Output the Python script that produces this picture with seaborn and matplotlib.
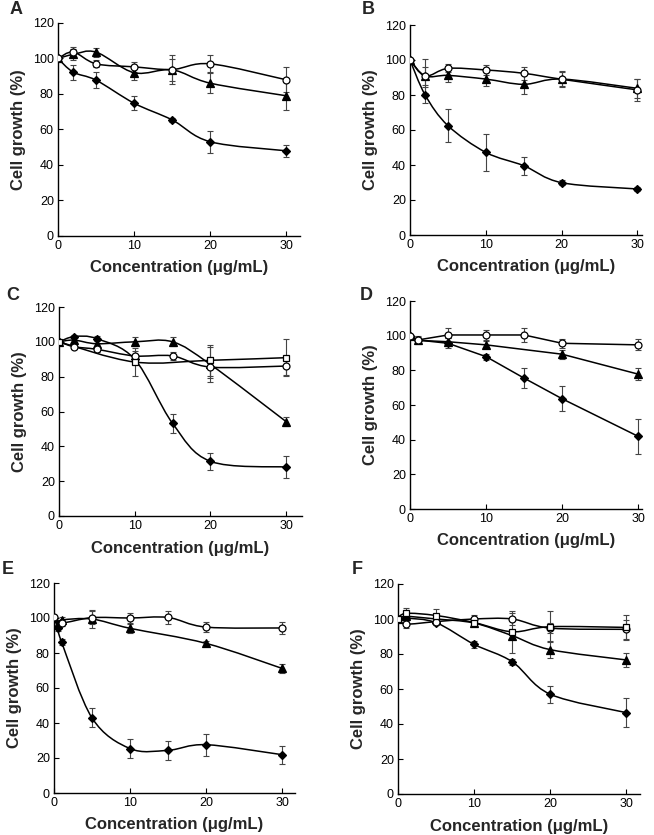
# Cell growth curves, six panels (A-F), smoothed lines like the original figure.

import numpy as np
import matplotlib
matplotlib.use("Agg")
import matplotlib.pyplot as plt
from matplotlib.path import Path
from matplotlib.patches import PathPatch
import seaborn as sns

# ---- data ----
conc_a = [0, 2, 5, 10, 15, 20, 30]
a_diamond = [100, 92.3, 87.8, 74.8, 65.4, 53.1, 48.0]
a_diamond_err = [0, 4.3, 4.5, 4.0, 1.0, 6.2, 3.5]
a_triangle = [100, 102.3, 103.6, 92.0, 93.6, 86.1, 79.0]
a_triangle_err = [0, 3.0, 2.5, 4.0, 6.0, 5.5, 7.8]
a_circle = [100, 103.6, 97.0, 95.3, 93.8, 97.0, 88.0]
a_circle_err = [0, 3.0, 2.0, 3.0, 8.0, 4.8, 7.0]

conc_b = [0, 2, 5, 10, 15, 20, 30]
b_diamond = [100, 80.0, 62.5, 47.2, 39.6, 29.9, 26.3]
b_diamond_err = [0, 4.5, 9.5, 10.6, 5.2, 1.5, 1.0]
b_triangle = [100, 90.9, 91.2, 89.1, 86.1, 89.1, 83.8]
b_triangle_err = [0, 5.0, 4.0, 4.0, 5.8, 4.0, 5.5]
b_circle = [100, 90.9, 95.2, 94.3, 92.4, 89.0, 82.9]
b_circle_err = [0, 9.5, 2.3, 3.0, 3.8, 4.5, 6.2]

conc_c = [0, 2, 5, 10, 15, 20, 30]
c_diamond = [100, 103.0, 101.8, 90.0, 53.2, 31.4, 28.1]
c_diamond_err = [0, 1.0, 1.5, 3.0, 5.5, 4.8, 6.2]
c_triangle = [100, 101.0, 98.9, 100.0, 100.0, 87.0, 54.2]
c_triangle_err = [0, 1.5, 2.0, 2.5, 2.5, 10.0, 2.5]
c_circle = [100, 97.2, 95.7, 91.9, 91.9, 85.5, 86.1]
c_circle_err = [0, 1.5, 1.5, 3.0, 2.5, 6.0, 5.3]
conc_c_sq = [0, 10, 20, 30]
c_square = [100, 88.4, 89.4, 90.9]
c_square_err = [0, 8.0, 9.0, 10.5]

conc_d = [0, 1, 5, 10, 15, 20, 30]
d_diamond = [100, 97.5, 95.6, 87.9, 75.5, 63.6, 41.9]
d_diamond_err = [0, 1.5, 3.0, 1.8, 5.8, 7.3, 10.0]
conc_d_tri = [0, 1, 5, 10, 20, 30]
d_triangle = [100, 97.3, 96.5, 94.7, 89.3, 77.8]
d_triangle_err = [0, 1.5, 2.0, 2.0, 2.5, 3.3]
d_circle = [100, 97.5, 100.4, 100.4, 100.4, 95.6, 94.7]
d_circle_err = [0, 2.5, 4.0, 3.0, 4.0, 2.5, 3.2]

conc_e = [0, 0.5, 1, 5, 10, 15, 20, 30]
e_diamond = [100, 94.3, 86.3, 42.9, 25.4, 24.4, 27.6, 21.9]
e_diamond_err = [0, 1.5, 1.5, 5.4, 5.5, 5.4, 6.2, 5.2]
conc_e_tri = [0, 0.5, 1, 5, 10, 20, 30]
e_triangle = [100, 96.5, 98.8, 99.4, 94.1, 85.5, 71.2]
e_triangle_err = [0, 2.0, 1.5, 5.0, 2.5, 1.5, 2.8]
conc_e_circ = [0, 1, 5, 10, 15, 20, 30]
e_circle = [100.5, 97.2, 100.2, 100.0, 100.3, 94.8, 94.3]
e_circle_err = [0, 1.5, 3.6, 3.0, 3.8, 2.8, 3.5]

conc_f = [0, 1, 5, 10, 15, 20, 30]
f_diamond = [100, 100.5, 97.9, 85.5, 75.6, 57.0, 46.5]
f_diamond_err = [0, 1.5, 1.5, 1.8, 1.8, 4.8, 8.2]
f_triangle = [100, 101.5, 100.0, 97.7, 90.5, 82.5, 76.6]
f_triangle_err = [0, 2.0, 2.0, 1.5, 2.0, 5.0, 4.0]
f_circle = [100, 97.1, 98.5, 100.0, 100.0, 94.8, 94.1]
f_circle_err = [0, 2.5, 1.5, 2.5, 3.5, 3.0, 5.5]
f_square = [100, 103.2, 102.0, 98.0, 92.7, 95.6, 95.2]
f_square_err = [0, 3.0, 3.5, 1.5, 12.0, 9.0, 7.0]

x_ticks = [0, 10, 20, 30]
y_ticks = [0, 20, 40, 60, 80, 100, 120]
x_label = "Concentration (μg/mL)"
y_label = "Cell growth (%)"

# marker styles: (marker, size, face colour)
styles = {
    "diamond": ("D", 4.0, "black"),
    "triangle": ("^", 5.6, "black"),
    "square": ("s", 4.8, "white"),
    "circle": ("o", 5.0, "white"),
}

sns.set_style("ticks")
plt.rcParams["font.family"] = ["Liberation Sans", "DejaVu Sans"]

W, H = 654, 835
fig = plt.figure(figsize=(W / 100, H / 100), dpi=100)


# Draws a line through the points the way Excel does its "smoothed line"
# (Catmull-Rom style cubic Bezier segments in data coordinates).
def smooth_line(ax, x, y):
    x = np.asarray(x, float)
    y = np.asarray(y, float)
    n = len(x)
    verts = [(x[0], y[0])]
    codes = [Path.MOVETO]
    for i in range(n - 1):
        i0 = max(i - 1, 0)
        i3 = min(i + 2, n - 1)
        c1 = (x[i] + (x[i + 1] - x[i0]) / 6, y[i] + (y[i + 1] - y[i0]) / 6)
        c2 = (x[i + 1] - (x[i3] - x[i]) / 6, y[i + 1] - (y[i3] - y[i]) / 6)
        verts += [c1, c2, (x[i + 1], y[i + 1])]
        codes += [Path.CURVE4] * 3
    ax.add_patch(PathPatch(Path(verts, codes), fill=False, edgecolor="black",
                           linewidth=1.1, zorder=2))


def draw_series(ax, x, y, err, kind, smooth):
    marker, ms, fc = styles[kind]
    ax.errorbar(x, y, yerr=err, fmt="none", ecolor="#444444", elinewidth=0.8,
                capsize=2.3, capthick=0.8, zorder=1)
    if smooth:
        smooth_line(ax, x, y)
        ls = ""
    else:
        ls = "-"
    sns.lineplot(x=x, y=y, ax=ax, marker=marker, linestyle=ls, linewidth=1.1,
                 markersize=ms, color="black", markerfacecolor=fc,
                 markeredgecolor="black", markeredgewidth=0.9,
                 errorbar=None, sort=False, zorder=3)


# letter, axes box (left, top, right, bottom px), x max, smoothed, letter pos, series
panels = [
    ("A", (58, 23, 300, 236), 31.8, True, (10, 9), [
        (conc_a, a_diamond, a_diamond_err, "diamond"),
        (conc_a, a_triangle, a_triangle_err, "triangle"),
        (conc_a, a_circle, a_circle_err, "circle")]),
    ("B", (410, 25, 642, 235), 30.6, True, (362, 9), [
        (conc_b, b_diamond, b_diamond_err, "diamond"),
        (conc_b, b_triangle, b_triangle_err, "triangle"),
        (conc_b, b_circle, b_circle_err, "circle")]),
    ("C", (59, 307, 302, 516), 32.1, True, (6, 295), [
        (conc_c, c_diamond, c_diamond_err, "diamond"),
        (conc_c, c_triangle, c_triangle_err, "triangle"),
        (conc_c, c_circle, c_circle_err, "circle"),
        (conc_c_sq, c_square, c_square_err, "square")]),
    ("D", (410, 301, 642, 509), 30.5, False, (360, 295), [
        (conc_d, d_diamond, d_diamond_err, "diamond"),
        (conc_d_tri, d_triangle, d_triangle_err, "triangle"),
        (conc_d, d_circle, d_circle_err, "circle")]),
    ("E", (54, 583, 295, 793), 31.7, True, (2, 570), [
        (conc_e, e_diamond, e_diamond_err, "diamond"),
        (conc_e_tri, e_triangle, e_triangle_err, "triangle"),
        (conc_e_circ, e_circle, e_circle_err, "circle")]),
    ("F", (398, 584, 640, 794), 31.8, True, (352, 570), [
        (conc_f, f_diamond, f_diamond_err, "diamond"),
        (conc_f, f_triangle, f_triangle_err, "triangle"),
        (conc_f, f_circle, f_circle_err, "circle"),
        (conc_f, f_square, f_square_err, "square")]),
]

for letter, (l, t, r, b), x_max, smooth, (lx, ly), series in panels:
    ax = fig.add_axes([l / W, 1 - b / H, (r - l) / W, (b - t) / H])
    for x, y, err, kind in series:
        draw_series(ax, x, y, err, kind, smooth)

    ax.set_xlim(0, x_max)
    ax.set_ylim(0, 120)
    ax.set_xticks(x_ticks)
    ax.set_yticks(y_ticks)
    ax.tick_params(direction="in", length=3.5, width=0.8, labelsize=9,
                   colors="black", pad=3)
    for side in ("top", "right"):
        ax.spines[side].set_visible(False)
    for side in ("left", "bottom"):
        ax.spines[side].set_linewidth(1.0)
        ax.spines[side].set_color("black")
    ax.set_xlabel(x_label, fontsize=12, fontweight="bold", labelpad=6)
    ax.set_ylabel(y_label, fontsize=12, fontweight="bold", labelpad=5)

    fig.text(lx / W, 1 - ly / H, letter, fontsize=13, fontweight="bold",
             ha="left", va="center")

fig.savefig("out.png", dpi=100)
plt.close(fig)
